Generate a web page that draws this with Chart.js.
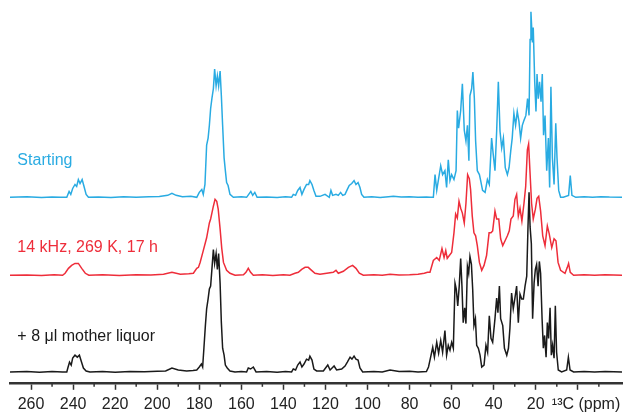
<!DOCTYPE html>
<html>
<head>
<meta charset="utf-8">
<script src="https://cdn.jsdelivr.net/npm/chart.js@4.4.0/dist/chart.umd.min.js"></script>
<style>
    body { margin: 0; background: #fff; }
    #wrap { width: 627px; height: 420px; position: relative; }
</style>
</head>
<body>
<div id="wrap"><canvas id="nmr"></canvas></div>
<script>
// 13C CP-MAS spectra, [ppm, intensity]

const starting = [
    [270,0],[262,0.5],[255,-0.3],[250,0.4],[246,0],[243,0],[241.9,6],[241.1,3],[240.2,9],[239.1,13],[238.3,11],
    [237.5,18],[236.7,14],[235.7,18],[234.8,11],[233.8,3],[232.7,0],[228,0.4],[222,-0.3],[216,0.5],[210,0],
    [204,0.6],[199,0.8],[195,2],[193,4],[191,2],[188,0.5],[184,1],[181.2,0],[180,5],[178.8,8],[178.1,3],
    [177.3,13],[176.5,53],[175.8,60],[175.2,73],[174.6,90],[174,100],[173.3,110],[172.7,130],[172,113],
    [171.4,123],[170.8,113],[170.1,128],[169.5,103],[168.9,73],[168.2,40],[167.6,27],[167,15],[166.3,12],
    [165.4,3],[163.8,0],[160,0.5],[157.5,0],[156.5,3],[155.5,6],[154.6,2],[153.6,5],[152.5,0],[148,0.4],
    [143,-0.2],[139,0.5],[136.1,0],[135.3,3],[134.2,2],[133.2,7],[132.1,10],[131.2,3],[130.2,8],[129,13],
    [128,13],[127.4,17],[126.4,13],[125.5,7],[124.5,1],[122.6,1],[120.2,3],[118.2,0],[117.4,7],[116.6,2],
    [115,3],[113.9,2],[112.8,5],[111.8,2],[110.7,3],[109.6,8],[108.7,12],[107.5,14],[106.4,17],[105.5,13],
    [104.5,15],[103.6,10],[102.8,3],[101.7,0],[98,0.5],[94,-0.2],[90,0.6],[87.7,1],[84,0.3],[80,0.5],[76,0],
    [72,0.4],[70.3,0],[68.7,0],[67.9,23],[67.1,7],[65.2,32],[64.3,23],[63.2,27],[62.4,10],[61.6,38],[60.8,17],
    [60,23],[58.9,18],[57.9,27],[57.3,88],[56.7,70],[55.7,88],[54.9,115],[54,68],[53.2,57],[52.5,73],[51.8,37],
    [51.3,103],[50.5,110],[49.9,127],[49.2,100],[48.6,57],[47.8,27],[46.8,23],[46.2,17],[45.3,7],[44.1,5],
    [43,18],[42.1,13],[41,60],[40.2,43],[39.4,27],[38.6,67],[37.8,117],[37,67],[36.2,50],[35.4,60],[34.5,30],
    [33.5,23],[32.7,30],[31.9,47],[31.2,60],[30.4,85],[29.6,73],[28.8,87],[28,77],[27.2,60],[26.4,73],[25.6,78],
    [24.7,83],[23.9,100],[23.2,83],[22.7,160],[22.3,188],[21.6,157],[21.2,172],[20.5,117],[19.9,87],[19.4,125],
    [18.8,100],[18.2,117],[17.5,97],[16.9,125],[16.3,63],[15.6,83],[14.8,27],[14,60],[13.4,10],[12.8,112],
    [12.1,40],[11.3,13],[10.5,75],[9.9,40],[9.1,7],[8.2,0],[6.9,0],[4.4,2],[3.6,22],[2.8,2],[1,0],[-3,0.5],
    [-7,0],[-11,0.6],[-15,0.2],[-21,0]
];

const spun = [
    [270,0],[262,0.3],[255,-0.3],[249,0.4],[245,0],[243.8,2],[242.2,7],[240.7,10],[239.1,12],[237.5,12],
    [235.9,7],[234.2,2],[232.5,0],[226,0.4],[218,-0.2],[210,0.5],[203,0.3],[197,1],[193,3],[189,1],[185,1.5],
    [182.8,2],[181.2,7],[180.4,8],[179.6,13],[178.1,25],[176.5,38],[175.2,53],[174.6,57],[174,63],[173.3,70],
    [172.5,77],[171.7,75],[171,67],[170.1,47],[169.3,27],[168.5,13],[167,5],[165.4,2],[163,0],[159,0.5],
    [157.8,3],[156.7,7],[155.6,3],[154.3,0],[150,0.4],[145,-0.2],[140,0.5],[136.9,0],[134.5,2],[132.9,3],
    [131.3,6],[129.7,8],[128.2,8],[126.6,5],[125,2],[122.6,1],[119.4,2],[116.3,3],[115,5],[113.9,2],[111.5,4],
    [109.1,8],[107.1,10],[105.5,7],[103.9,2],[102,0],[97,0.4],[93,0],[89.3,1],[85,0.3],[80,0.5],[76,1],[73,2],
    [71.5,3],[70.3,3],[68.7,15],[67.1,18],[65.9,15],[64.6,27],[63.6,18],[62.8,25],[62.1,17],[61.1,20],[60,23],
    [58.9,43],[58.1,62],[57.3,58],[56.5,75],[55.7,68],[54.9,63],[54,53],[53.2,73],[52.4,102],[51.6,98],[51,87],
    [50.2,60],[49.4,43],[48.6,40],[47.8,30],[46.8,13],[45.7,5],[44.6,10],[43.4,20],[42.2,43],[41.3,43],[40.5,45],
    [39.4,65],[38.6,57],[37.6,57],[36.7,37],[35.7,30],[34.6,35],[33.5,40],[32.6,45],[31.8,57],[30.7,60],[29.9,77],
    [29.1,82],[28.3,60],[27.5,68],[26.6,55],[25.6,73],[24.8,90],[24,127],[23.4,133],[22.8,107],[22,73],[21.2,57],
    [20.2,67],[19.4,78],[18.6,80],[17.7,65],[16.7,40],[15.6,30],[14.5,50],[13.6,42],[12.4,28],[11.3,37],
    [10.4,35],[9.4,13],[8.2,5],[6.1,2],[5,8],[4.4,12],[3.6,3],[2,0],[-3,0.4],[-8,0],[-13,0.5],[-21,0]
];

const liquor = [
    [270,0],[262,0.5],[256,-0.3],[250,0.4],[245,0],[243,0],[242.5,4],[241.7,10],[240.9,7],[240.2,14],[239.1,17],
    [238,15],[237,17],[236,10],[235.1,4],[233.8,1],[232,0],[226,0.5],[220,-0.2],[213,0.4],[206,0.2],[200,0.6],
    [196,1],[193,4],[190,2],[186,1],[183,1.5],[181.2,2],[180,5],[179,8],[178.4,5],[177.8,24],[177.1,47],
    [176.5,64],[175.8,74],[175.2,84],[174.6,87],[174,104],[173.3,124],[172.7,110],[172,120],[171.4,104],
    [170.8,120],[170.1,90],[169.5,50],[168.9,24],[168.2,17],[167.6,7],[166.7,4],[165.4,1],[163,0],[160,0.4],
    [157.5,0],[156.7,4],[155.6,3],[154.3,5],[153,0],[148,0.4],[143,-0.2],[139,0.5],[136.1,0],[135.3,3],[134.2,2],
    [133.2,7],[132.1,10],[131.2,5],[130.2,8],[129,13],[128,12],[127.4,16],[126.4,12],[125.5,3],[124.2,1],[121,1],
    [118.9,7],[117.8,2],[115.9,6],[114.7,2],[112.3,3],[110.7,6],[109.6,10],[108.3,15],[107.4,13],[106.4,16],
    [105.5,13],[104.5,12],[103.6,4],[102.3,0],[97,0.5],[93,0],[89.3,2],[85,0.4],[80,0.6],[76,0],[72,0.5],[71,5],
    [70.3,12],[69,25],[68.2,15],[67.1,30],[66.2,19],[65.2,32],[64.3,20],[63.2,42],[62.4,17],[61.6,27],[60.8,22],
    [60,30],[59.2,24],[58.4,90],[57.8,84],[57.1,67],[56.4,87],[55.7,115],[55.1,87],[54.5,50],[53.8,65],[53.2,49],
    [52.5,107],[51.9,100],[51.3,117],[50.6,109],[50,84],[49.4,47],[48.7,54],[48.1,27],[47.3,24],[46.5,17],
    [45.7,5],[44.6,7],[43.7,27],[42.9,20],[42.1,57],[41.3,34],[40.5,30],[39.4,54],[38.6,75],[38,60],[37.3,87],
    [36.7,54],[35.7,47],[34.9,24],[33.8,17],[33,24],[32.3,44],[31.5,80],[30.7,64],[29.9,75],[29.1,87],[28.3,50],
    [27.5,79],[26.7,74],[25.9,74],[25.1,87],[24.3,97],[23.7,147],[23.2,182],[22.7,147],[22.1,130],[21.5,54],
    [20.8,90],[20.2,104],[19.6,109],[18.9,87],[18.3,112],[17.7,100],[17,54],[16.4,24],[15.8,37],[15.1,15],
    [14.5,50],[13.9,34],[13.2,65],[12.6,17],[12,27],[11.3,14],[10.7,67],[10.1,20],[9.3,2],[7.7,0],[5.3,2],
    [4.5,15],[3.7,2],[2,0],[-3,0.5],[-8,0],[-13,0.4],[-21,0]
];

const seriesNames = ['Starting', '14 kHz, 269 K, 17 h', '+ 8 \u03bcl mother liquor'];
const majorTicks = [260, 240, 220, 200, 180, 160, 140, 120, 100, 80, 60, 40, 20, 0];
const minorTicks = [250, 230, 210, 190, 170, 150, 130, 110, 90, 70, 50, 30, 10, -10];

// stacking and look
const colors = ['#29abe2', '#ee2d3a', '#1a1a1a'];
const offsets = [177, 98, 0];
const labelY = [214, 126, 36];
const FONT = '"Liberation Sans", Arial, Helvetica, sans-serif';

const spectra = [starting, spun, liquor];

const extras = {
    id: 'extras',
    afterDraw(chart) {
        const ctx = chart.ctx;
        const x = chart.scales.x;
        const y = chart.scales.y;
        const axisY = chart.chartArea.bottom;

        ctx.save();
        // short minor ticks
        ctx.strokeStyle = '#333';
        ctx.lineWidth = 1.5;
        minorTicks.forEach(v => {
            const px = x.getPixelForValue(v);
            ctx.beginPath();
            ctx.moveTo(px, axisY);
            ctx.lineTo(px, axisY + 4);
            ctx.stroke();
        });

        // unit label sitting in place of the 0 tick
        ctx.font = '16px ' + FONT;
        ctx.fillStyle = '#222';
        ctx.textAlign = 'left';
        ctx.textBaseline = 'middle';
        ctx.fillText('\u00b9\u00b3C (ppm)', x.getPixelForValue(0) - 26, axisY + 22);

        // series names
        seriesNames.forEach((name, i) => {
            ctx.fillStyle = colors[i];
            ctx.fillText(name, x.getPixelForValue(266.5), y.getPixelForValue(labelY[i]));
        });
        ctx.restore();
    }
};

new Chart(document.getElementById('nmr'), {
    type: 'line',
    data: {
        datasets: spectra.map((s, i) => ({
            label: seriesNames[i],
            data: s.map(([ppm, v]) => ({ x: ppm, y: v + offsets[i] })),
            borderColor: colors[i],
            borderWidth: 1.5,
            pointRadius: 0,
            tension: 0,
            fill: false
        }))
    },
    options: {
        responsive: true,
        maintainAspectRatio: false,
        animation: false,
        layout: { padding: { left: 10, right: 5, top: 0, bottom: 1 } },
        plugins: {
            legend: { display: false },
            tooltip: { enabled: false }
        },
        scales: {
            x: {
                type: 'linear',
                min: -21,
                max: 270,
                reverse: true,
                afterBuildTicks: (scale) => {
                    scale.ticks = majorTicks.map(v => ({ value: v }));
                },
                border: { display: true, color: '#333', width: 2.5 },
                grid: {
                    drawOnChartArea: false,
                    drawTicks: true,
                    tickLength: 7,
                    tickWidth: 1.5,
                    tickColor: '#333'
                },
                ticks: {
                    autoSkip: false,
                    maxRotation: 0,
                    padding: 5,
                    color: '#222',
                    font: { family: FONT, size: 16 },
                    callback: (v) => (v === 0 ? '' : String(v))
                }
            },
            y: {
                display: false,
                min: -11,
                max: 377
            }
        }
    },
    plugins: [extras]
});
</script>
</body>
</html>
